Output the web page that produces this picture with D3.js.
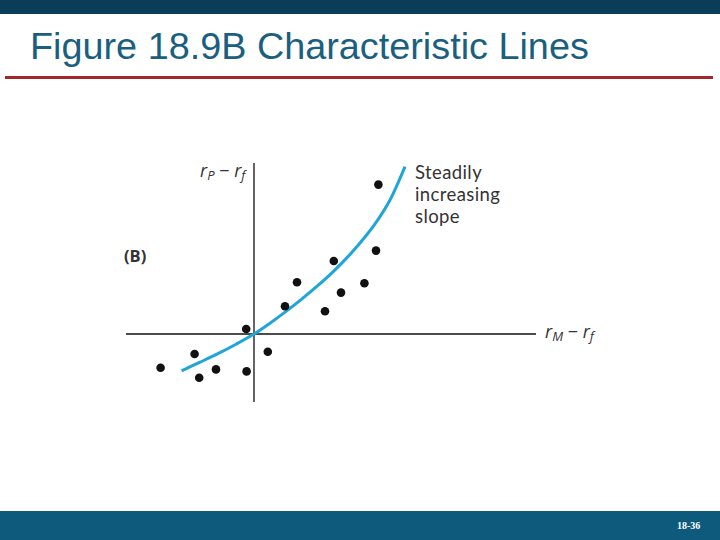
<!DOCTYPE html>
<html><head><meta charset="utf-8">
<script src="https://cdn.jsdelivr.net/npm/d3@7"></script>
<style>html,body{margin:0;padding:0;background:#fff;}svg{display:block;}</style>
</head><body>
<svg id="chart" width="720" height="540"></svg>
<script>
const pointsX = [6.22, 6.10, 3.99, 2.15, 5.52, 4.35, 1.55, 3.55, -0.39, 0.69, -2.97, -4.67, -1.90, -0.37, -2.74];
const pointsY = [7.47, 4.17, 3.65, 2.59, 2.54, 2.07, 1.39, 1.14, 0.25, -0.89, -1.00, -1.69, -1.77, -1.87, -2.19];
// Characteristic line (steadily increasing slope)
const curveX = [-3.62, -2.7, -1.8, -0.9, 0, 0.8, 1.6, 2.4, 3.2, 4.0, 4.8, 5.6, 6.2, 6.8, 7.55];
const curveY = [-1.84, -1.41, -0.98, -0.51, 0, 0.54, 1.13, 1.76, 2.43, 3.16, 3.98, 4.91, 5.72, 6.70, 8.37];
const annotationLines = ["Steadily", "increasing", "slope"];
const titleText = "Figure 18.9B Characteristic Lines";
const pageLabel = "18-36";

const svg = d3.select("#chart");
// header / footer
svg.append("rect").attr("x",0).attr("y",0).attr("width",720).attr("height",14).attr("fill","#0a3d58");
svg.append("text").attr("x",30).attr("y",59).attr("font-family","Liberation Sans, Arial, sans-serif")
  .attr("font-size",37.8).attr("fill","#1b5f80").text(titleText);
svg.append("rect").attr("x",5).attr("y",76).attr("width",708).attr("height",3).attr("fill","#a3262a");
svg.append("rect").attr("x",0).attr("y",511).attr("width",720).attr("height",29).attr("fill","#0d5a7c");
svg.append("text").attr("x",677).attr("y",529).attr("font-family","Liberation Serif, serif").attr("font-weight","bold")
  .attr("font-size",10).attr("fill","#fff").text(pageLabel);

const x = d3.scaleLinear().domain([-6.4, 14.1]).range([126, 536]);
const y = d3.scaleLinear().domain([-3.4, 8.55]).range([402, 163]);

// axes
svg.append("line").attr("x1",x(-6.4)).attr("x2",x(14.1)).attr("y1",y(0)).attr("y2",y(0)).attr("stroke","#111").attr("stroke-width",1.6);
svg.append("line").attr("x1",x(0)).attr("x2",x(0)).attr("y1",y(8.55)).attr("y2",y(-3.4)).attr("stroke","#111").attr("stroke-width",1.3);

// curve
const curveData = curveX.map((d,i)=>[d, curveY[i]]);
svg.append("path").datum(curveData)
  .attr("d", d3.line().x(d=>x(d[0])).y(d=>y(d[1])).curve(d3.curveCatmullRom))
  .attr("fill","none").attr("stroke","#1fa5da").attr("stroke-width",3);

// points
svg.selectAll("circle.pt").data(pointsX.map((d,i)=>[d, pointsY[i]])).enter().append("circle")
  .attr("class","pt").attr("cx",d=>x(d[0])).attr("cy",d=>y(d[1])).attr("r",4.3).attr("fill","#111");

const lf = "Open Sans, Noto Sans, sans-serif";
// (B)
svg.append("text").attr("x",124).attr("y",262).attr("font-family",lf).attr("font-weight","bold")
  .attr("font-size",16.5).attr("fill","#333").text("(B)");

// y axis label r_P - r_f
const yl = svg.append("text").attr("x",200).attr("y",177).attr("font-family",lf).attr("font-size",18).attr("fill","#333");
yl.append("tspan").attr("font-style","italic").text("r");
yl.append("tspan").attr("font-style","italic").attr("font-size",13).attr("dy",3).text("P");
yl.append("tspan").attr("dy",-3).text(" \u2212 ");
yl.append("tspan").attr("font-style","italic").text("r");
yl.append("tspan").attr("font-style","italic").attr("font-size",13).attr("dy",3).text("f");

// x axis label r_M - r_f
const xl = svg.append("text").attr("x",545).attr("y",338).attr("font-family",lf).attr("font-size",18).attr("fill","#333");
xl.append("tspan").attr("font-style","italic").text("r");
xl.append("tspan").attr("font-style","italic").attr("font-size",13).attr("dy",3).text("M");
xl.append("tspan").attr("dy",-3).text(" \u2212 ");
xl.append("tspan").attr("font-style","italic").text("r");
xl.append("tspan").attr("font-style","italic").attr("font-size",13).attr("dy",3).text("f");

// annotation (three lines)
svg.selectAll("text.ann").data(annotationLines).enter().append("text").attr("class","ann")
  .attr("font-family","Lato, sans-serif").attr("font-size",18.5).attr("letter-spacing",0.4).attr("fill","#333")
  .attr("x",415).attr("y",(d,i)=>178.5 + i*22).text(d=>d);
</script>
</body></html>
